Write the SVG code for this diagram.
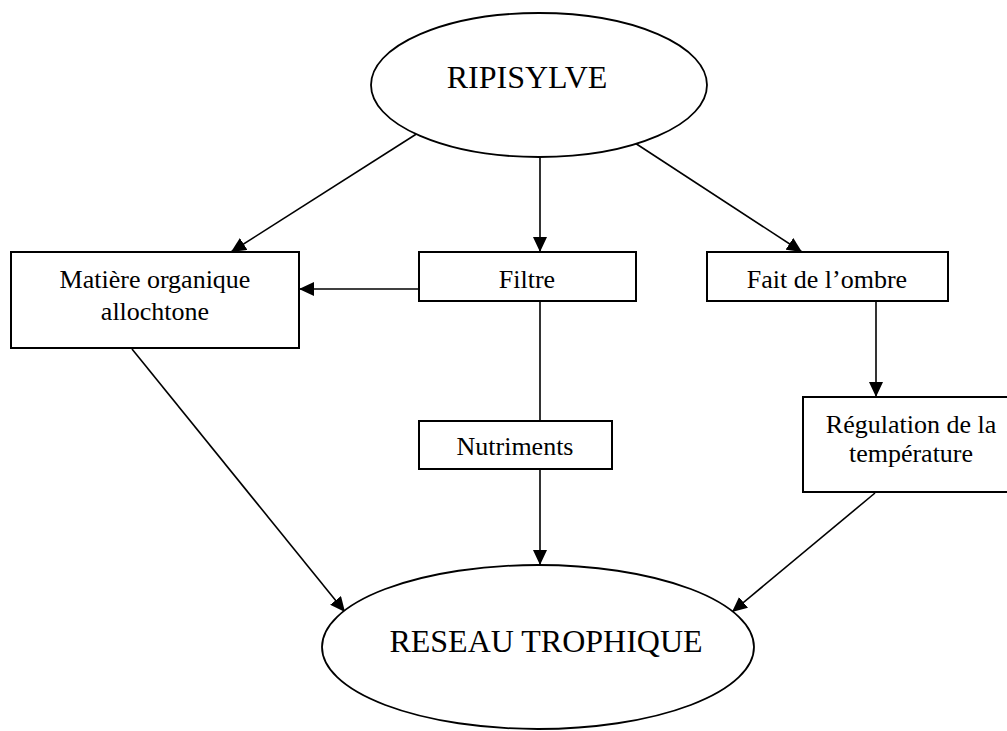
<svg xmlns="http://www.w3.org/2000/svg" width="1007" height="731" viewBox="0 0 1007 731">
  <style>
    .shape { fill: #ffffff; stroke: #000000; stroke-width: 2; }
    .oval { fill: #ffffff; stroke: #000000; stroke-width: 1.8; }
    .edge { fill: none; stroke: #000000; stroke-width: 1.6; }
    .label { font-family: "Liberation Serif", "Times New Roman", serif; font-size: 26px; fill: #000000; text-anchor: middle; }
    .title { font-family: "Liberation Serif", "Times New Roman", serif; font-size: 32px; fill: #000000; text-anchor: middle; }
  </style>
  <defs>
    <marker id="arrow" markerUnits="userSpaceOnUse" markerWidth="16" markerHeight="14" refX="15" refY="7" orient="auto">
      <path d="M0,0 L15,7 L0,14 Z" fill="#000000"/>
    </marker>
  </defs>
  <rect width="1007" height="731" fill="#ffffff"/>

  <g id="connectors">
    <line class="edge" x1="418" y1="133" x2="231" y2="252" marker-end="url(#arrow)"/>
    <line class="edge" x1="540" y1="157" x2="540" y2="252" marker-end="url(#arrow)"/>
    <line class="edge" x1="635" y1="143" x2="802" y2="252" marker-end="url(#arrow)"/>
    <line class="edge" x1="419" y1="289" x2="299" y2="289" marker-end="url(#arrow)"/>
    <line class="edge" x1="540" y1="301" x2="540" y2="421"/>
    <line class="edge" x1="540" y1="469" x2="540" y2="565" marker-end="url(#arrow)"/>
    <line class="edge" x1="876" y1="301" x2="876" y2="397" marker-end="url(#arrow)"/>
    <line class="edge" x1="132" y1="349" x2="345" y2="612" marker-end="url(#arrow)"/>
    <line class="edge" x1="875" y1="493" x2="732" y2="612" marker-end="url(#arrow)"/>
  </g>

  <g id="ripisylve">
    <ellipse class="oval" cx="539" cy="85" rx="168" ry="72"/>
    <text class="title" x="527" y="88">RIPISYLVE</text>
  </g>

  <g id="matiere">
    <rect class="shape" x="11" y="252" width="288" height="96"/>
    <text class="label" x="155" y="288">Matière organique</text>
    <text class="label" x="155" y="320">allochtone</text>
  </g>

  <g id="filtre">
    <rect class="shape" x="419" y="252" width="217" height="49"/>
    <text class="label" x="527" y="288">Filtre</text>
  </g>

  <g id="ombre">
    <rect class="shape" x="707" y="252" width="241" height="49"/>
    <text class="label" x="827" y="288">Fait de l’ombre</text>
  </g>

  <g id="nutriments">
    <rect class="shape" x="419" y="421" width="193" height="48"/>
    <text class="label" x="515" y="455">Nutriments</text>
  </g>

  <g id="regulation">
    <rect class="shape" x="803" y="397" width="216" height="95"/>
    <text class="label" x="911" y="433">Régulation de la</text>
    <text class="label" x="911" y="462">température</text>
  </g>

  <g id="reseau">
    <ellipse class="oval" cx="538" cy="647" rx="216" ry="82"/>
    <text class="title" x="546" y="652">RESEAU TROPHIQUE</text>
  </g>
</svg>
